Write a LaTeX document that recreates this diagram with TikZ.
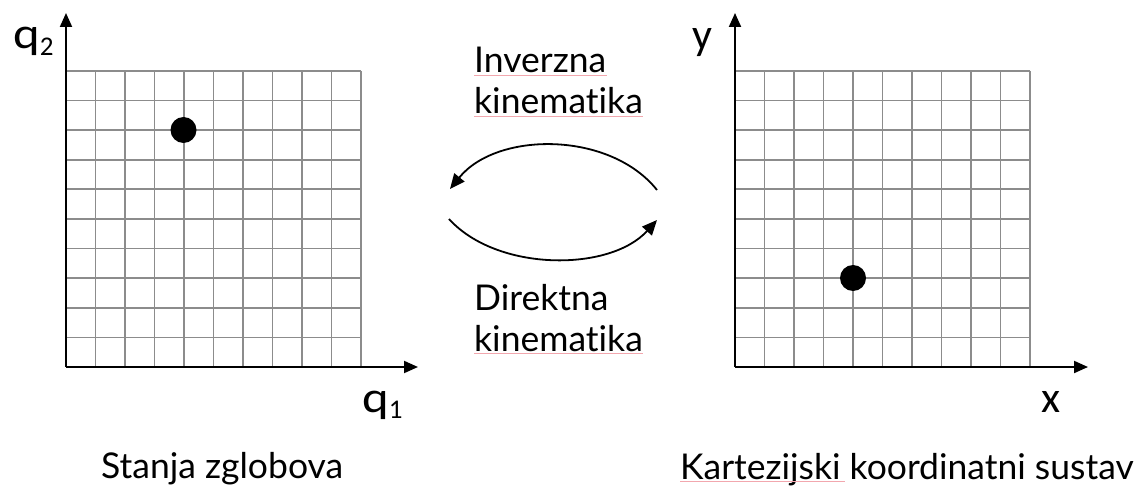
\documentclass[tikz,border=0pt]{standalone}
\usepackage{fontspec}
\setmainfont{Lato}[Ligatures={NoCommon}]
\newfontfamily\axfont{Carlito}
\usetikzlibrary{arrows.meta}
\definecolor{gridgray}{HTML}{8C8C8C}
\definecolor{spellpink}{HTML}{F2A7AE}
\begin{document}
\begin{tikzpicture}[x=1pt,y=-1pt,
  gridln/.style={draw=gridgray,line width=1.8pt},
  axisarrow/.style={line width=2pt,-{Triangle[length=14pt,width=12pt]}},
  curvearrow/.style={line width=1.8pt,-{Triangle[length=15pt,width=13pt]}},
  dot/.style={circle,fill=black,minimum size=26pt,inner sep=0pt},
  lbl/.style={inner sep=0pt,anchor=base west,font=\fontsize{35.5}{40}\selectfont},
  axlbl/.style={inner sep=0pt,anchor=base west,font=\axfont\fontsize{44}{48}\selectfont},
  spell/.style={draw=spellpink,line width=1pt}]
\useasboundingbox (0,0) rectangle (1142,486);

% left grid
\foreach \i in {0,...,10} {
  \draw[gridln] ({66+29.5*\i},71) -- ({66+29.5*\i},367);
  \draw[gridln] (66,{71+29.6*\i}) -- (361,{71+29.6*\i});
}
% right grid
\foreach \i in {0,...,10} {
  \draw[gridln] ({735+29.5*\i},71) -- ({735+29.5*\i},367);
  \draw[gridln] (735,{71+29.6*\i}) -- (1030,{71+29.6*\i});
}

% axes
\coordinate (O1) at (66,367);
\coordinate (Y1) at (66,13);
\coordinate (X1) at (418,367);
\coordinate (O2) at (735,367);
\coordinate (Y2) at (735,13);
\coordinate (X2) at (1088,367);
\draw[axisarrow] (O1) -- (Y1);
\draw[axisarrow] (O1) -- (X1);
\draw[axisarrow] (O2) -- (Y2);
\draw[axisarrow] (O2) -- (X2);

% dots
\node[dot] (d1) at (183.5,130) {};
\node[dot] (d2) at (853,278) {};

% axis labels
\node[axlbl] (q2) at (13,49) {\scalebox{1.15}[1]{q}\raisebox{-7pt}{\fontsize{27}{27}\selectfont 2}};
\node[axlbl] (q1) at (362,412) {\scalebox{1.15}[1]{q}\raisebox{-6pt}{\fontsize{27}{27}\selectfont 1}};
\node[axlbl] (ylab) at (692,50) {y};
\node[axlbl] (xlab) at (1041,412) {x};

% curved arrows
\coordinate (A1) at (657,190);
\coordinate (A2) at (450,189);
\coordinate (B1) at (449,219);
\coordinate (B2) at (657,220);
\draw[curvearrow] (A1) .. controls (610,131) and (497,131) .. (A2);
\draw[curvearrow] (B1) .. controls (497,272) and (610,272) .. (B2);

% middle texts
\node[lbl] (inv) at (474,73) {Inverzna};
\node[lbl] (kin1) at (474,114) {kinematika};
\node[lbl] (dir) at (474,310) {Direktna};
\node[lbl] (kin2) at (474,351) {kinematika};
\draw[spell] ([yshift=-2.5pt]inv.base west) -- ([yshift=-2.5pt]inv.base east);
\draw[spell] ([yshift=-2.5pt]kin1.base west) -- ([yshift=-2.5pt]kin1.base east);
\draw[spell] ([yshift=-2.5pt]kin2.base west) -- ([yshift=-2.5pt]kin2.base east);

% captions
\node[lbl] (stanja) at (101,478) {Stanja zglobova};
\node[lbl] (kart) at (680,479) {Kartezijski koordinatni sustav};
\coordinate (kartend) at ([xshift=165pt,yshift=-2.5pt]kart.base west);
\draw[spell] ([yshift=-2.5pt]kart.base west) -- (kartend);
\end{tikzpicture}
\end{document}
